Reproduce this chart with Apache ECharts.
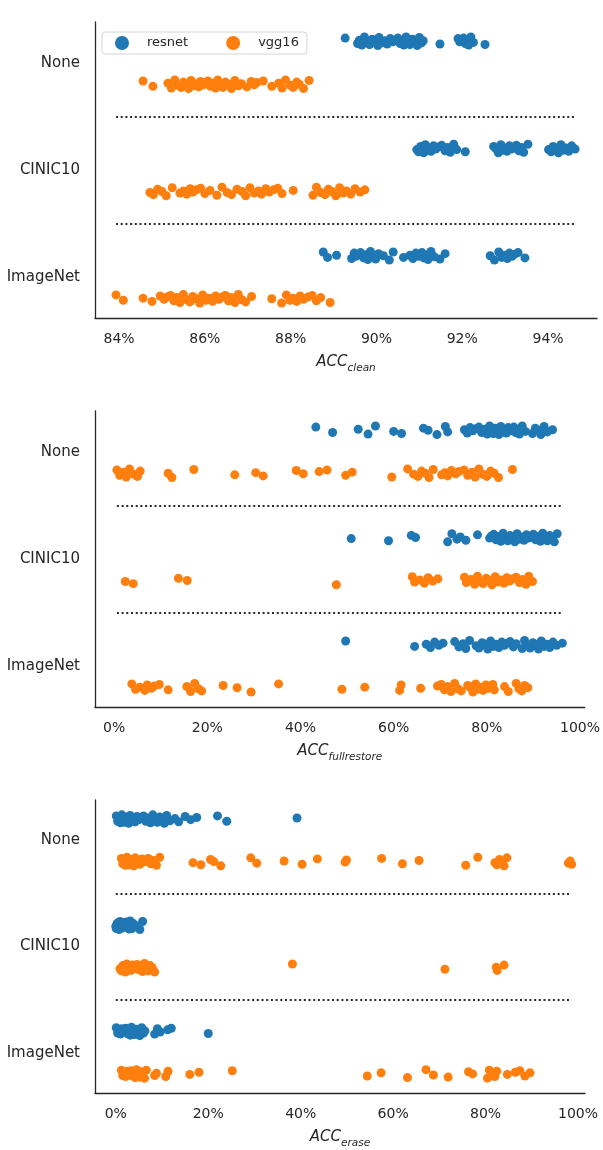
<!DOCTYPE html>
<html>
<head>
<meta charset="utf-8">
<title>ACC strip plots</title>
<script src="https://cdn.jsdelivr.net/npm/echarts@6/dist/echarts.min.js"></script>
<style>
  html, body { margin: 0; padding: 0; background: #fff; }
  #main { width: 603px; height: 1150px; }
</style>
</head>
<body>
<div id="main"></div>
<script>
var categories = ['None', 'CINIC10', 'ImageNet'];
var models = ['resnet', 'vgg16'];

// ACC_clean (%)
var cleanResnetNone = [89.27, 89.56, 89.6, 89.66, 89.72, 89.79, 89.84, 89.9, 89.97, 90.03, 90.06, 90.12, 90.2, 90.25, 90.32, 90.38, 90.44, 90.5, 90.55, 90.6, 90.64, 90.69, 90.73, 90.78, 90.84, 90.9, 90.95, 91.0, 91.05, 91.09, 91.48, 91.9, 91.94, 91.99, 92.03, 92.07, 92.11, 92.15, 92.2, 92.26, 92.53];
var cleanResnetCinic = [90.94, 90.98, 91.03, 91.06, 91.1, 91.14, 91.18, 91.22, 91.27, 91.33, 91.38, 91.45, 91.52, 91.6, 91.66, 91.72, 91.8, 91.87, 92.07, 92.73, 92.78, 92.84, 92.9, 92.95, 93.0, 93.04, 93.1, 93.15, 93.2, 93.26, 93.32, 93.38, 93.43, 93.53, 94.01, 94.07, 94.12, 94.18, 94.24, 94.3, 94.36, 94.42, 94.48, 94.55, 94.63];
var cleanResnetImagenet = [88.76, 88.86, 89.07, 89.42, 89.48, 89.52, 89.58, 89.63, 89.7, 89.75, 89.8, 89.86, 89.92, 89.98, 90.05, 90.16, 90.3, 90.39, 90.63, 90.78, 90.85, 90.92, 90.98, 91.02, 91.06, 91.1, 91.14, 91.2, 91.27, 91.35, 91.48, 91.6, 92.65, 92.75, 92.85, 92.92, 93.0, 93.05, 93.1, 93.16, 93.22, 93.3, 93.46];
var cleanVggNone = [84.56, 84.79, 85.14, 85.22, 85.3, 85.38, 85.45, 85.5, 85.57, 85.62, 85.68, 85.73, 85.8, 85.86, 85.9, 85.96, 86.02, 86.07, 86.13, 86.18, 86.25, 86.3, 86.36, 86.42, 86.48, 86.55, 86.62, 86.7, 86.78, 86.85, 86.98, 87.08, 87.15, 87.21, 87.36, 87.56, 87.72, 87.8, 87.88, 87.99, 88.06, 88.14, 88.2, 88.3, 88.43];
var cleanVggCinic = [84.72, 84.8, 84.9, 85.0, 85.1, 85.24, 85.42, 85.5, 85.58, 85.66, 85.72, 85.8, 85.9, 86.0, 86.12, 86.28, 86.4, 86.52, 86.62, 86.75, 86.87, 86.95, 87.05, 87.15, 87.25, 87.32, 87.42, 87.5, 87.6, 87.7, 87.8, 88.06, 88.52, 88.6, 88.7, 88.8, 88.88, 88.96, 89.05, 89.14, 89.22, 89.3, 89.4, 89.5, 89.62, 89.73];
var cleanVggImagenet = [83.93, 84.1, 84.56, 84.77, 84.96, 85.05, 85.12, 85.2, 85.28, 85.35, 85.42, 85.5, 85.58, 85.65, 85.72, 85.8, 85.88, 85.95, 86.02, 86.1, 86.18, 86.25, 86.33, 86.4, 86.48, 86.55, 86.62, 86.7, 86.78, 86.86, 86.95, 87.09, 87.56, 87.79, 87.9, 87.98, 88.06, 88.14, 88.22, 88.3, 88.4, 88.5, 88.6, 88.7, 88.92];

// ACC_fullrestore (%)
var frResnetNone = [43.3, 46.9, 52.4, 54.5, 56.1, 60.0, 61.7, 66.4, 67.4, 69.3, 71.1, 71.6, 75.2, 75.8, 76.4, 77.0, 77.6, 78.3, 78.9, 79.5, 80.1, 80.6, 81.0, 81.4, 81.8, 82.2, 82.6, 83.0, 83.4, 83.8, 84.2, 84.6, 85.0, 85.4, 85.8, 86.2, 86.6, 87.0, 87.6, 88.3, 89.8, 90.4, 91.0, 91.6, 92.3, 93.0, 94.1];
var frResnetCinic = [50.9, 58.9, 63.8, 64.7, 71.6, 72.5, 73.6, 74.3, 75.5, 78.0, 80.6, 81.0, 81.5, 82.0, 82.5, 83.0, 83.5, 84.0, 84.5, 85.0, 85.5, 86.0, 86.5, 87.0, 87.5, 88.0, 88.5, 89.0, 89.5, 90.0, 90.5, 91.0, 91.5, 92.0, 92.5, 93.0, 93.5, 94.0, 94.5, 95.1];
var frResnetImagenet = [49.7, 64.5, 67.0, 67.9, 68.8, 69.7, 70.6, 73.1, 74.0, 74.9, 75.5, 76.3, 77.7, 78.3, 79.0, 79.6, 80.2, 80.8, 81.4, 82.0, 82.6, 83.2, 83.8, 84.4, 85.0, 85.7, 86.3, 87.6, 88.1, 88.7, 89.3, 89.9, 90.5, 91.1, 91.7, 92.3, 92.9, 93.5, 94.2, 95.0, 96.2];
var frVggNone = [0.6, 1.2, 2.0, 2.6, 3.3, 4.2, 5.0, 5.6, 11.6, 12.4, 17.1, 25.9, 30.4, 32.0, 39.1, 40.6, 44.0, 45.7, 49.7, 51.1, 59.6, 63.0, 64.3, 65.2, 66.0, 66.8, 67.6, 68.5, 70.3, 71.0, 71.6, 72.4, 73.3, 74.0, 75.1, 75.9, 76.8, 77.5, 78.3, 79.1, 80.0, 80.8, 81.6, 82.5, 85.5];
var frVggCinic = [2.4, 4.1, 13.8, 15.7, 47.7, 64.0, 64.5, 65.6, 66.6, 67.4, 68.4, 69.5, 75.2, 75.6, 76.6, 77.4, 78.0, 78.6, 79.2, 79.9, 80.5, 81.1, 81.8, 82.4, 83.0, 83.7, 84.3, 84.9, 85.6, 86.3, 87.0, 87.7, 88.4, 89.0, 89.8];
var frVggImagenet = [3.8, 4.6, 5.5, 6.6, 7.1, 8.0, 8.6, 9.7, 11.6, 15.6, 16.4, 17.3, 18.1, 18.8, 23.4, 26.4, 29.4, 35.3, 48.9, 53.8, 61.3, 61.6, 65.8, 69.4, 70.2, 70.9, 71.6, 72.3, 73.1, 73.8, 74.5, 75.9, 76.5, 77.0, 77.6, 78.1, 78.7, 79.2, 79.8, 80.3, 80.9, 81.3, 81.6, 83.8, 84.6, 86.3, 86.9, 87.5, 88.1, 88.8];

// ACC_erase (%)
var erResnetNone = [0.1, 0.4, 0.7, 1.0, 1.3, 1.6, 1.9, 2.2, 2.5, 2.8, 3.1, 3.4, 3.8, 4.2, 4.6, 5.0, 5.5, 6.0, 6.5, 7.0, 7.5, 8.0, 8.5, 9.0, 9.5, 10.0, 10.5, 11.0, 11.7, 12.8, 13.6, 15.0, 16.2, 17.5, 22.0, 24.0, 39.2];
var erResnetCinic = [0.0, 0.1, 0.3, 0.5, 0.7, 0.9, 1.1, 1.3, 1.5, 1.7, 1.9, 2.1, 2.3, 2.5, 2.7, 2.9, 3.1, 3.3, 3.5, 3.7, 4.2, 5.2, 5.8];
var erResnetImagenet = [0.1, 0.4, 0.7, 1.0, 1.3, 1.6, 1.9, 2.2, 2.5, 2.8, 3.1, 3.4, 3.7, 4.0, 4.4, 4.8, 5.2, 5.6, 6.0, 6.3, 8.4, 9.0, 9.6, 11.2, 12.0, 20.0];
var erVggNone = [1.2, 1.5, 1.8, 2.1, 2.4, 2.7, 3.0, 3.3, 3.6, 3.9, 4.2, 4.5, 4.8, 5.2, 5.6, 6.0, 6.5, 7.0, 7.6, 8.2, 8.8, 9.5, 16.7, 18.4, 20.5, 21.2, 22.7, 29.2, 30.5, 36.4, 40.3, 43.6, 49.6, 49.9, 57.5, 62.0, 65.6, 75.7, 78.3, 82.0, 82.4, 83.0, 83.5, 84.0, 84.6, 97.9, 98.3, 98.6];
var erVggCinic = [0.9, 1.2, 1.5, 1.8, 2.1, 2.4, 2.7, 3.0, 3.3, 3.6, 3.9, 4.2, 4.6, 5.0, 5.4, 5.8, 6.2, 6.6, 7.0, 7.4, 7.9, 8.4, 38.2, 71.2, 82.3, 82.5, 84.0];
var erVggImagenet = [1.2, 1.5, 1.8, 2.1, 2.4, 2.7, 3.0, 3.3, 3.6, 3.9, 4.2, 4.5, 4.8, 5.1, 5.4, 5.8, 6.2, 6.6, 8.4, 8.8, 10.8, 11.3, 16.0, 18.0, 25.2, 54.4, 57.4, 63.1, 67.1, 68.7, 71.9, 76.3, 77.2, 80.4, 80.8, 81.2, 81.6, 82.0, 82.4, 84.7, 86.4, 87.4, 88.5, 89.6];

var cleanTicks = [84, 86, 88, 90, 92, 94];
var pctTicks = [0, 20, 40, 60, 80, 100];

// small vertical jitter so points don't sit on one line (like seaborn stripplot)
var JITTER = [-0.03, 0.02, -0.01, 0.035, -0.04, 0.01, 0.03, -0.02, 0.0, 0.04, -0.035, 0.015, -0.005, 0.025, -0.025, 0.005, -0.015];
var DODGE = { resnet: -0.2, vgg16: 0.2 };
var COLORS = { resnet: '#1f77b4', vgg16: '#ff7f0e' };
var INK = '#262626';

var panels = [
  { sub: 'clean', ticks: cleanTicks, min: 83.44, max: 95.14,
    resnet: [cleanResnetNone, cleanResnetCinic, cleanResnetImagenet],
    vgg16: [cleanVggNone, cleanVggCinic, cleanVggImagenet],
    grid: { left: 95, top: 22, width: 502, height: 296 } },
  { sub: 'fullrestore', ticks: pctTicks, min: -4.1, max: 101,
    resnet: [frResnetNone, frResnetCinic, frResnetImagenet],
    vgg16: [frVggNone, frVggCinic, frVggImagenet],
    grid: { left: 95, top: 411, width: 490, height: 296 } },
  { sub: 'erase', ticks: pctTicks, min: -4.5, max: 101.5,
    resnet: [erResnetNone, erResnetCinic, erResnetImagenet],
    vgg16: [erVggNone, erVggCinic, erVggImagenet],
    grid: { left: 95, top: 800, width: 490, height: 296 } }
];

function stripPoints(groups, offset) {
  var pts = [];
  groups.forEach(function (vals, ci) {
    vals.forEach(function (v, i) {
      pts.push([v, ci + offset + JITTER[(i + ci * 5) % JITTER.length]]);
    });
  });
  return pts;
}

var series = [];
panels.forEach(function (p, k) {
  var all = [].concat.apply([], p.resnet.concat(p.vgg16));
  var lo = Math.min.apply(null, all), hi = Math.max.apply(null, all);
  models.forEach(function (m) {
    var s = {
      name: m,
      type: 'scatter',
      xAxisIndex: k,
      yAxisIndex: k,
      symbolSize: 9,
      itemStyle: { color: COLORS[m], opacity: 1 },
      data: stripPoints(p[m], DODGE[m])
    };
    if (m === 'resnet') {
      s.markLine = {
        silent: true,
        symbol: 'none',
        label: { show: false },
        lineStyle: { color: '#2b2b2b', type: [2, 2.7], width: 2 },
        data: [0.5, 1.5].map(function (y) {
          return [{ coord: [lo, y] }, { coord: [hi, y] }];
        })
      };
    }
    series.push(s);
  });
});

var chart = echarts.init(document.getElementById('main'));
chart.setOption({
  animation: false,
  backgroundColor: '#fff',
  textStyle: { fontFamily: 'DejaVu Sans', color: INK },
  legend: {
    data: models,
    left: 102,
    top: 32,
    orient: 'horizontal',
    icon: 'circle',
    itemWidth: 14,
    itemHeight: 14,
    itemGap: 38,
    padding: [4, 8, 4, 13],
    backgroundColor: '#fff',
    borderColor: '#d4d4d4',
    borderWidth: 1,
    borderRadius: 3,
    textStyle: { fontSize: 13, color: INK, padding: [0, 0, 0, 13] }
  },
  grid: panels.map(function (p) { return p.grid; }),
  xAxis: panels.map(function (p, k) {
    return {
      type: 'value',
      gridIndex: k,
      min: p.min,
      max: p.max,
      axisLine: { show: true, onZero: false, lineStyle: { color: INK, width: 1.3 } },
      axisTick: { show: false },
      splitLine: { show: false },
      axisLabel: {
        customValues: p.ticks,
        formatter: function (v) { return v + '%'; },
        color: INK, fontSize: 14, margin: 14
      },
      name: '{i|ACC}{s|' + p.sub + '}',
      nameLocation: 'middle',
      nameGap: 37,
      nameTextStyle: {
        rich: {
          i: { fontStyle: 'italic', fontSize: 15, color: INK, fontFamily: 'DejaVu Sans', verticalAlign: 'top' },
          s: { fontStyle: 'italic', fontSize: 10.5, color: INK, fontFamily: 'DejaVu Sans', verticalAlign: 'top', padding: [8, 0, 0, 0] }
        }
      }
    };
  }),
  yAxis: panels.map(function (p, k) {
    return {
      type: 'value',
      gridIndex: k,
      inverse: true,
      min: -0.38,
      max: 2.38,
      axisLine: { show: true, onZero: false, lineStyle: { color: INK, width: 1.3 } },
      axisTick: { show: false },
      splitLine: { show: false },
      axisLabel: {
        customValues: [0, 1, 2],
        formatter: function (v) { return categories[Math.round(v)]; },
        color: INK, fontSize: 15, margin: 15
      }
    };
  }),
  series: series
});
</script>
</body>
</html>
